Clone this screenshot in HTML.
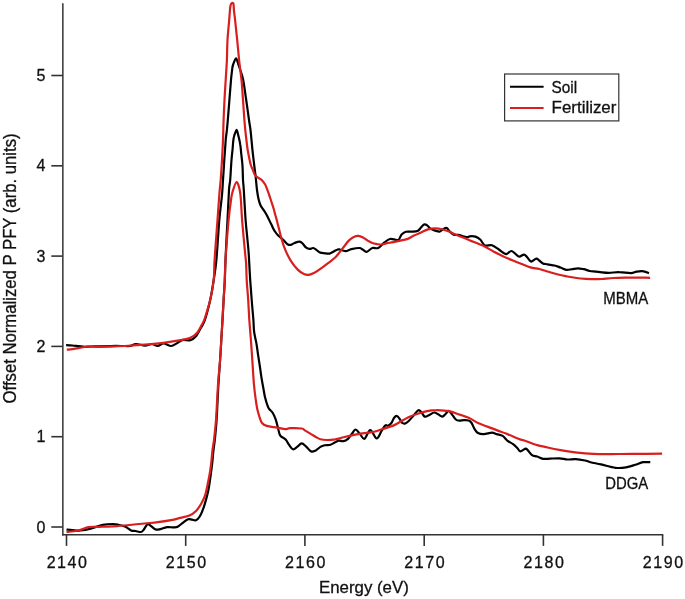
<!DOCTYPE html>
<html><head><meta charset="utf-8"><style>
html,body{margin:0;padding:0;background:#fff;}
svg{display:block;will-change:transform;}
text{font-family:"Liberation Sans",sans-serif;fill:#111;stroke:#111;stroke-width:0.3px;}
</style></head><body>
<svg width="685" height="599" viewBox="0 0 685 599">
<rect width="685" height="599" fill="#fff"/>
<g stroke="#333" stroke-width="1.4" fill="none">
<line x1="62.85" y1="3.2" x2="62.85" y2="535.5" stroke-width="1.5"/>
<line x1="62" y1="534.8" x2="663.3" y2="534.8"/>
<line x1="51.3" y1="527.0" x2="62.7" y2="527.0" stroke-width="1.6"/><line x1="51.3" y1="436.7" x2="62.7" y2="436.7" stroke-width="1.6"/><line x1="51.3" y1="346.4" x2="62.7" y2="346.4" stroke-width="1.6"/><line x1="51.3" y1="256.1" x2="62.7" y2="256.1" stroke-width="1.6"/><line x1="51.3" y1="165.8" x2="62.7" y2="165.8" stroke-width="1.6"/><line x1="51.3" y1="75.5" x2="62.7" y2="75.5" stroke-width="1.6"/><line x1="66.5" y1="534.8" x2="66.5" y2="545.9" stroke-width="1.6"/><line x1="185.7" y1="534.8" x2="185.7" y2="545.9" stroke-width="1.6"/><line x1="304.9" y1="534.8" x2="304.9" y2="545.9" stroke-width="1.6"/><line x1="424.2" y1="534.8" x2="424.2" y2="545.9" stroke-width="1.6"/><line x1="543.4" y1="534.8" x2="543.4" y2="545.9" stroke-width="1.6"/><line x1="662.6" y1="534.8" x2="662.6" y2="545.9" stroke-width="1.6"/>
</g>
<g font-size="16"><text x="45.3" y="532.6" text-anchor="end">0</text><text x="45.3" y="442.3" text-anchor="end">1</text><text x="45.3" y="352.0" text-anchor="end">2</text><text x="45.3" y="261.7" text-anchor="end">3</text><text x="45.3" y="171.4" text-anchor="end">4</text><text x="45.3" y="81.1" text-anchor="end">5</text></g>
<g font-size="16"><text x="66.8" y="567.6" text-anchor="middle" textLength="40.3" lengthAdjust="spacing">2140</text><text x="186.0" y="567.6" text-anchor="middle" textLength="40.3" lengthAdjust="spacing">2150</text><text x="305.2" y="567.6" text-anchor="middle" textLength="40.3" lengthAdjust="spacing">2160</text><text x="424.5" y="567.6" text-anchor="middle" textLength="40.3" lengthAdjust="spacing">2170</text><text x="543.7" y="567.6" text-anchor="middle" textLength="40.3" lengthAdjust="spacing">2180</text><text x="662.9" y="567.6" text-anchor="middle" textLength="40.3" lengthAdjust="spacing">2190</text></g>
<text x="319" y="592.8" font-size="17" textLength="89.8" lengthAdjust="spacingAndGlyphs">Energy (eV)</text>
<text transform="translate(15.8,403.4) rotate(-90)" font-size="18" textLength="270" lengthAdjust="spacingAndGlyphs">Offset Normalized P PFY (arb. units)</text>
<g fill="none" stroke-linejoin="round" stroke-linecap="butt" stroke-width="2.2">
<path d="M66.1,345.2 C67.1,345.2 70.2,345.4 72.3,345.5 C74.3,345.6 76.4,345.9 78.4,346.1 C80.4,346.3 82.5,346.7 84.5,346.8 C86.5,346.9 88.1,346.6 90.7,346.5 C93.3,346.4 96.6,346.4 100.0,346.3 C103.4,346.2 106.8,346.1 111.0,346.0 C115.2,345.9 121.8,346.0 125.0,346.0 C128.2,346.0 128.2,346.3 130.0,346.0 C131.8,345.7 133.5,344.1 136.0,344.0 C138.5,343.9 142.2,345.6 144.9,345.6 C147.6,345.6 149.8,343.9 151.9,344.0 C154.0,344.1 155.8,346.1 157.7,346.0 C159.6,345.9 161.3,343.4 163.5,343.4 C165.7,343.4 168.9,346.0 171.1,346.0 C173.2,346.0 174.6,344.6 176.4,343.6 C178.2,342.6 179.9,340.7 182.2,340.1 C184.5,339.5 188.1,340.8 190.4,340.1 C192.7,339.4 194.4,338.1 196.2,336.0 C197.9,333.9 199.4,330.5 200.9,327.8 C202.4,325.1 203.4,324.6 204.9,320.0 C206.4,315.4 208.7,306.7 210.2,300.0 C211.7,293.3 212.7,286.7 213.7,280.0 C214.7,273.3 215.5,270.0 216.4,260.0 C217.3,250.0 218.4,230.8 219.3,220.0 C220.2,209.2 221.4,201.7 222.0,195.0 C222.6,188.3 222.6,185.8 223.0,180.0 C223.4,174.2 223.9,166.7 224.3,160.0 C224.8,153.3 225.3,145.0 225.7,140.0 C226.1,135.0 226.6,133.3 226.9,130.0 C227.2,126.7 227.4,125.0 227.8,120.0 C228.2,115.0 228.9,106.7 229.4,100.0 C229.9,93.3 230.6,85.0 231.0,80.0 C231.4,75.0 231.8,72.5 232.1,70.0 C232.4,67.5 232.3,66.9 233.0,65.0 C233.7,63.1 235.1,58.4 236.0,58.4 C236.9,58.4 237.9,63.1 238.6,65.0 C239.3,66.9 239.5,67.5 240.3,70.0 C241.1,72.5 242.2,75.0 243.2,80.0 C244.2,85.0 245.2,93.3 246.2,100.0 C247.2,106.7 248.3,115.0 249.0,120.0 C249.7,125.0 250.1,126.7 250.5,130.0 C250.9,133.3 251.1,135.8 251.5,140.0 C251.9,144.2 252.4,150.0 253.0,155.0 C253.6,160.0 254.4,166.5 254.8,170.0 C255.2,173.5 255.2,172.7 255.6,176.0 C256.0,179.3 256.5,186.3 257.0,190.0 C257.5,193.7 257.8,195.9 258.4,198.4 C259.0,200.9 259.6,203.2 260.4,205.0 C261.2,206.8 261.9,207.5 263.0,209.2 C264.1,210.9 265.4,212.6 266.7,215.0 C268.0,217.4 269.7,221.2 271.0,223.8 C272.3,226.4 273.3,228.9 274.5,230.8 C275.7,232.8 276.8,234.1 278.2,235.5 C279.6,236.9 281.3,238.1 282.9,239.5 C284.4,240.9 286.1,243.3 287.5,244.2 C288.9,245.1 289.8,245.0 291.0,244.8 C292.2,244.6 293.1,243.5 294.5,243.0 C295.9,242.5 297.9,241.6 299.2,241.6 C300.5,241.6 300.9,242.0 302.1,243.0 C303.3,244.0 304.9,246.7 306.2,247.7 C307.5,248.7 308.5,248.8 309.7,248.9 C310.9,249.0 312.0,247.8 313.2,248.0 C314.4,248.2 315.5,249.3 316.7,250.1 C317.9,250.9 318.9,252.1 320.3,252.6 C321.7,253.1 323.3,253.1 324.9,253.3 C326.4,253.5 328.0,253.9 329.6,253.6 C331.2,253.2 332.9,251.9 334.3,251.2 C335.7,250.5 336.9,249.8 337.8,249.5 C338.7,249.2 338.4,249.2 339.7,249.5 C341.0,249.8 343.6,251.2 345.5,251.1 C347.4,251.0 349.1,249.6 351.4,249.1 C353.7,248.6 357.6,247.9 359.5,248.0 C361.4,248.1 361.8,249.1 363.0,249.7 C364.2,250.3 365.0,252.1 366.6,251.8 C368.2,251.5 370.5,248.6 372.4,248.0 C374.3,247.4 376.2,248.9 378.2,248.0 C380.1,247.1 382.2,244.2 384.1,242.7 C386.1,241.2 387.9,239.5 389.9,239.0 C391.8,238.5 394.3,239.7 395.8,239.8 C397.3,239.9 397.7,240.7 398.7,239.8 C399.7,238.9 400.4,235.8 401.6,234.5 C402.8,233.2 404.1,232.3 405.8,231.8 C407.5,231.3 409.8,231.7 411.7,231.6 C413.6,231.5 415.9,231.7 417.5,231.0 C419.1,230.3 419.9,228.6 421.0,227.5 C422.1,226.4 423.0,224.9 424.0,224.5 C425.0,224.1 425.8,224.4 426.9,225.1 C428.0,225.8 429.0,227.7 430.4,228.6 C431.8,229.5 433.6,230.1 435.1,230.6 C436.7,231.1 438.4,231.8 439.7,231.6 C441.0,231.4 442.0,229.8 443.2,229.2 C444.4,228.6 445.5,227.5 446.7,228.0 C447.9,228.5 449.1,231.0 450.3,232.1 C451.5,233.2 452.5,234.4 453.8,234.8 C455.1,235.2 456.8,234.6 458.4,234.8 C459.9,235.0 461.5,235.8 463.1,236.2 C464.7,236.6 466.7,237.2 467.8,237.2 C468.9,237.2 468.4,236.4 469.7,236.3 C471.0,236.2 473.8,236.1 475.5,236.6 C477.2,237.1 478.6,238.0 480.2,239.5 C481.8,241.0 482.9,244.5 484.9,245.4 C486.8,246.3 489.6,244.5 491.9,245.2 C494.2,245.9 496.6,248.0 498.9,249.5 C501.2,251.0 503.8,253.8 505.9,254.1 C508.0,254.3 509.6,250.6 511.7,251.0 C513.9,251.4 516.6,255.9 518.8,256.5 C520.9,257.1 522.7,253.9 524.6,254.7 C526.5,255.5 529.1,260.1 530.4,261.2 C531.7,262.2 531.3,261.4 532.3,261.0 C533.3,260.6 535.2,258.8 536.4,258.7 C537.6,258.6 538.2,259.7 539.3,260.5 C540.4,261.3 541.5,262.8 542.9,263.4 C544.3,264.0 545.6,263.9 547.5,264.3 C549.4,264.7 552.4,265.0 554.5,265.5 C556.6,266.0 558.4,266.8 560.4,267.5 C562.4,268.2 564.2,269.5 566.2,269.8 C568.2,270.1 570.2,269.4 572.1,269.2 C574.0,268.9 576.0,268.3 577.9,268.3 C579.8,268.3 581.8,268.8 583.8,269.2 C585.8,269.6 587.7,270.6 589.6,271.0 C591.5,271.4 593.7,271.4 595.4,271.6 C597.1,271.8 597.8,271.9 600.0,272.1 C602.2,272.3 605.5,272.8 608.7,272.8 C611.9,272.8 615.5,272.1 619.2,272.2 C622.9,272.2 628.0,273.2 630.9,273.1 C633.8,273.0 634.6,271.9 636.7,271.6 C638.8,271.3 641.7,271.1 643.7,271.3 C645.8,271.6 648.1,272.8 649.0,273.1" stroke="#000"/>
<path d="M66.5,529.6 C67.5,529.7 70.0,530.0 72.3,530.1 C74.6,530.2 77.3,530.8 80.4,530.5 C83.5,530.2 87.0,529.6 90.7,528.6 C94.5,527.6 99.2,525.6 102.9,524.8 C106.6,524.0 110.4,524.0 113.1,524.0 C115.8,524.0 117.2,524.6 119.3,525.0 C121.3,525.4 124.0,526.1 125.4,526.6 C126.8,527.1 126.6,527.4 127.6,528.1 C128.6,528.8 130.3,530.2 131.6,530.7 C132.9,531.2 134.0,530.8 135.5,531.0 C137.0,531.2 139.5,532.1 140.8,532.0 C142.1,531.9 142.3,531.4 143.4,530.1 C144.5,528.8 146.2,525.2 147.3,524.4 C148.4,523.6 148.7,524.4 150.0,525.2 C151.3,526.0 153.7,528.5 155.2,529.2 C156.7,529.9 157.2,529.8 159.2,529.4 C161.2,529.0 164.6,527.4 167.0,527.1 C169.4,526.8 171.8,527.5 173.6,527.4 C175.4,527.3 176.1,527.6 177.6,526.8 C179.1,526.0 181.1,524.1 182.8,522.8 C184.6,521.5 186.6,519.7 188.1,519.2 C189.6,518.7 190.7,519.4 192.0,519.6 C193.3,519.8 194.7,520.8 196.0,520.2 C197.3,519.7 198.6,518.5 199.9,516.3 C201.2,514.1 202.7,510.2 203.8,507.1 C204.9,504.0 205.7,500.8 206.5,497.9 C207.3,495.0 207.8,493.0 208.4,490.0 C209.0,487.0 209.4,484.2 210.0,480.0 C210.6,475.8 211.4,470.0 212.0,465.0 C212.6,460.0 213.0,454.2 213.5,450.0 C214.0,445.8 214.3,445.0 214.8,440.0 C215.3,435.0 216.0,429.2 216.6,420.0 C217.2,410.8 217.8,395.0 218.4,385.0 C219.0,375.0 219.6,367.5 220.1,360.0 C220.6,352.5 220.9,346.7 221.3,340.0 C221.7,333.3 222.1,326.7 222.5,320.0 C222.9,313.3 223.2,306.7 223.6,300.0 C224.0,293.3 224.5,286.7 224.8,280.0 C225.1,273.3 225.1,270.0 225.5,260.0 C225.9,250.0 226.9,231.7 227.5,220.0 C228.1,208.3 228.6,196.7 229.0,190.0 C229.4,183.3 229.8,185.0 230.2,180.0 C230.6,175.0 231.1,165.0 231.5,160.0 C231.9,155.0 232.2,152.9 232.5,150.0 C232.8,147.1 232.9,144.5 233.1,142.5 C233.3,140.5 233.4,139.5 233.7,137.9 C234.0,136.3 234.6,134.5 235.1,133.2 C235.6,131.9 236.2,130.0 236.6,129.9 C237.0,129.8 237.3,131.4 237.6,132.5 C237.9,133.6 238.1,134.6 238.6,136.7 C239.1,138.8 239.9,142.0 240.3,144.9 C240.8,147.8 240.9,150.7 241.3,154.2 C241.7,157.7 242.2,161.6 242.5,165.9 C242.8,170.2 242.8,176.0 243.0,180.0 C243.2,184.0 243.4,183.3 243.8,190.0 C244.2,196.7 245.0,211.7 245.6,220.0 C246.2,228.3 247.0,234.2 247.5,240.0 C248.0,245.8 248.4,248.3 248.8,255.0 C249.2,261.7 249.7,272.5 250.2,280.0 C250.7,287.5 251.2,293.3 251.7,300.0 C252.2,306.7 253.0,314.7 253.4,320.0 C253.8,325.3 253.6,327.8 254.1,331.7 C254.6,335.6 255.7,339.5 256.4,343.4 C257.1,347.3 257.5,351.1 258.1,355.0 C258.7,358.9 259.3,362.8 259.9,366.7 C260.5,370.6 261.0,374.7 261.6,378.4 C262.2,382.1 262.9,385.9 263.5,389.0 C264.1,392.1 264.2,393.8 264.9,396.7 C265.6,399.6 267.1,404.5 267.9,406.6 C268.7,408.7 268.8,408.5 269.6,409.5 C270.4,410.5 271.5,410.9 272.5,412.5 C273.5,414.1 274.6,416.5 275.5,418.9 C276.4,421.3 277.0,424.4 277.8,427.1 C278.6,429.8 278.8,433.3 280.1,435.3 C281.4,437.3 283.9,437.8 285.4,439.3 C286.9,440.9 287.6,442.9 288.9,444.6 C290.2,446.3 291.6,448.9 293.0,449.3 C294.4,449.7 295.7,447.9 297.1,446.9 C298.6,445.9 300.1,443.4 301.7,443.4 C303.2,443.4 304.8,445.6 306.4,446.9 C308.0,448.2 309.5,450.8 311.1,451.4 C312.7,452.0 314.2,451.1 315.8,450.4 C317.4,449.6 318.9,447.8 320.4,446.9 C321.9,446.0 323.0,445.7 324.7,445.3 C326.4,444.9 328.8,445.2 330.5,444.7 C332.2,444.2 333.8,443.0 335.2,442.3 C336.6,441.6 337.3,440.8 338.7,440.6 C340.1,440.4 341.8,441.5 343.4,441.2 C344.9,440.9 346.6,440.0 348.0,438.8 C349.4,437.6 350.3,435.7 351.6,434.1 C352.9,432.6 354.2,429.6 355.6,429.5 C357.0,429.4 358.2,432.1 359.7,433.6 C361.2,435.2 362.6,439.4 364.4,438.8 C366.2,438.2 368.2,430.2 370.3,430.1 C372.4,430.1 374.8,438.4 376.7,438.5 C378.6,438.6 380.2,432.9 381.7,430.7 C383.1,428.5 384.3,426.2 385.4,425.4 C386.4,424.6 387.0,426.1 388.0,425.7 C389.0,425.3 390.4,424.3 391.4,423.0 C392.4,421.7 393.1,419.2 394.0,418.0 C394.9,416.8 396.1,415.8 397.0,416.0 C397.9,416.2 398.8,417.8 399.7,419.0 C400.6,420.2 401.4,422.3 402.4,423.0 C403.3,423.7 404.3,423.7 405.4,423.4 C406.4,423.1 407.3,422.3 408.7,421.0 C410.1,419.7 412.0,417.3 413.6,415.5 C415.2,413.7 417.0,410.8 418.3,410.2 C419.6,409.6 420.1,410.9 421.2,412.0 C422.3,413.1 423.3,416.1 424.7,416.6 C426.1,417.1 427.8,415.6 429.4,414.9 C431.0,414.2 432.6,412.6 434.1,412.5 C435.6,412.4 436.8,413.6 438.2,414.3 C439.6,415.0 441.0,416.7 442.3,416.6 C443.6,416.5 444.7,414.7 445.8,413.7 C446.9,412.7 447.6,410.6 448.7,410.8 C449.8,411.0 451.1,413.4 452.3,414.9 C453.5,416.3 454.6,418.5 455.8,419.5 C457.0,420.5 457.9,420.6 459.3,420.7 C460.7,420.8 462.4,420.1 464.0,420.1 C465.6,420.1 467.4,420.0 468.7,420.5 C470.0,421.0 470.6,421.6 471.6,423.0 C472.6,424.4 473.4,427.2 474.5,428.9 C475.6,430.6 476.4,432.1 478.0,433.0 C479.6,433.9 481.5,434.2 483.9,434.1 C486.2,434.0 490.0,432.6 492.1,432.6 C494.2,432.6 494.9,433.6 496.7,434.1 C498.4,434.7 500.8,434.8 502.6,435.9 C504.4,437.0 505.6,439.2 507.3,440.6 C509.1,442.0 511.4,442.9 513.1,444.1 C514.8,445.3 516.1,446.8 517.3,448.0 C518.5,449.2 518.9,451.2 520.3,451.3 C521.7,451.4 524.2,448.8 525.5,448.6 C526.8,448.5 526.8,449.3 527.9,450.4 C529.0,451.5 530.5,454.1 532.0,455.1 C533.5,456.1 535.4,455.9 537.2,456.5 C539.0,457.1 540.9,458.4 543.0,458.8 C545.1,459.2 547.3,458.7 550.0,458.6 C552.7,458.5 556.5,458.2 559.4,458.3 C562.3,458.4 564.9,459.4 567.6,459.5 C570.3,459.6 572.9,458.9 575.8,459.1 C578.7,459.3 582.5,460.0 585.0,460.5 C587.5,461.0 587.8,461.6 590.5,462.2 C593.2,462.8 596.8,463.5 601.0,464.4 C605.2,465.3 611.3,467.3 615.5,467.8 C619.7,468.3 622.7,467.9 626.0,467.4 C629.3,466.9 632.4,465.7 635.2,464.8 C638.1,463.9 640.6,462.6 643.1,462.2 C645.6,461.8 649.1,462.2 650.3,462.2" stroke="#000"/>
<path d="M66.8,349.7 C67.7,349.6 70.4,349.5 72.3,349.2 C74.2,348.9 76.4,348.5 78.4,348.1 C80.4,347.7 82.6,347.3 84.5,347.0 C86.4,346.7 87.4,346.5 90.0,346.5 C92.6,346.5 96.5,346.8 100.0,346.8 C103.5,346.8 106.8,346.7 111.0,346.6 C115.2,346.5 118.8,346.4 125.0,346.0 C131.2,345.6 142.0,344.9 148.4,344.4 C154.8,343.9 157.9,343.6 163.5,342.8 C169.1,342.0 177.7,340.6 182.2,339.8 C186.7,339.0 187.9,339.0 190.4,337.8 C192.9,336.6 195.5,334.8 197.4,332.5 C199.3,330.2 200.8,326.7 202.1,324.3 C203.3,321.9 203.6,322.1 204.9,318.0 C206.2,313.9 208.7,306.3 210.2,300.0 C211.7,293.7 213.0,286.7 213.7,280.0 C214.4,273.3 214.0,270.0 214.6,260.0 C215.2,250.0 216.7,230.8 217.5,220.0 C218.3,209.2 218.8,201.7 219.3,195.0 C219.8,188.3 220.2,185.8 220.7,180.0 C221.1,174.2 221.6,166.7 222.0,160.0 C222.4,153.3 222.7,146.7 223.0,140.0 C223.3,133.3 223.3,126.7 223.6,120.0 C223.8,113.3 224.2,106.7 224.5,100.0 C224.8,93.3 225.3,86.7 225.7,80.0 C226.1,73.3 226.6,66.7 226.9,60.0 C227.2,53.3 227.1,46.7 227.5,40.0 C227.9,33.3 228.7,25.8 229.2,20.0 C229.7,14.2 229.9,8.1 230.6,5.3 C231.3,2.5 232.8,2.7 233.3,3.5 C233.9,4.3 233.6,7.2 233.9,10.0 C234.2,12.8 234.6,15.0 235.1,20.0 C235.6,25.0 236.5,33.3 237.2,40.0 C237.9,46.7 238.4,53.3 239.1,60.0 C239.8,66.7 240.8,73.3 241.5,80.0 C242.2,86.7 242.5,93.3 243.0,100.0 C243.5,106.7 244.0,115.0 244.4,120.0 C244.8,125.0 245.0,126.7 245.3,130.0 C245.6,133.3 246.0,136.7 246.4,140.0 C246.8,143.3 247.2,147.0 247.7,150.0 C248.2,153.0 248.7,155.5 249.2,158.0 C249.7,160.5 250.2,163.0 250.8,165.0 C251.4,167.0 252.2,168.3 252.9,170.0 C253.6,171.7 254.1,173.9 255.0,175.2 C255.9,176.5 257.3,177.1 258.4,177.9 C259.5,178.7 260.6,178.9 261.7,180.0 C262.8,181.1 264.1,182.7 265.0,184.2 C265.9,185.7 266.4,187.4 267.1,189.2 C267.8,191.0 268.4,192.8 269.2,195.0 C270.0,197.2 270.9,200.2 271.7,202.6 C272.5,205.0 273.2,207.1 273.8,209.2 C274.4,211.3 274.8,213.3 275.3,215.0 C275.8,216.7 276.0,217.1 276.6,219.5 C277.2,221.9 278.4,226.7 279.2,229.6 C279.9,232.5 280.3,234.4 281.1,237.2 C281.9,240.0 282.9,243.7 284.0,246.6 C285.1,249.5 286.1,252.0 287.5,254.7 C288.9,257.4 290.4,260.4 292.2,262.9 C293.9,265.4 296.1,268.0 298.0,269.9 C299.9,271.8 302.1,273.2 303.9,274.0 C305.7,274.8 306.9,275.0 308.6,274.8 C310.4,274.6 312.3,273.9 314.4,272.8 C316.5,271.7 319.1,269.9 321.4,268.2 C323.7,266.5 326.1,264.7 328.4,262.9 C330.7,261.1 333.3,259.3 335.2,257.5 C337.1,255.7 338.2,254.0 339.7,252.1 C341.2,250.2 342.8,248.1 344.3,246.2 C345.9,244.2 347.4,241.9 349.0,240.4 C350.6,238.9 352.1,237.7 353.7,236.9 C355.3,236.2 356.8,235.8 358.4,235.9 C359.9,236.0 361.4,236.7 363.0,237.5 C364.6,238.3 366.1,239.7 367.7,240.6 C369.3,241.5 370.8,242.4 372.4,243.0 C374.0,243.6 375.6,243.8 377.1,244.1 C378.7,244.3 380.1,244.6 381.7,244.5 C383.2,244.4 384.4,243.7 386.4,243.3 C388.3,242.9 391.1,242.6 393.4,242.1 C395.7,241.6 398.1,241.1 400.4,240.6 C402.7,240.1 404.7,239.9 407.0,239.1 C409.3,238.3 411.7,236.7 414.0,235.6 C416.3,234.5 418.7,233.5 421.0,232.5 C423.3,231.5 425.6,230.1 428.0,229.4 C430.4,228.7 432.8,228.3 435.1,228.3 C437.5,228.3 439.8,228.6 442.1,229.2 C444.4,229.8 446.8,230.7 449.1,231.6 C451.4,232.5 453.8,233.8 456.1,234.8 C458.4,235.8 460.8,236.7 463.1,237.6 C465.4,238.5 466.6,239.0 470.0,240.4 C473.4,241.8 479.9,244.2 483.7,246.0 C487.5,247.8 489.9,249.5 493.0,251.2 C496.1,252.8 499.3,254.4 502.4,255.9 C505.5,257.4 508.6,258.7 511.7,260.0 C514.8,261.3 518.0,262.6 521.1,263.8 C524.2,265.0 527.4,266.5 530.4,267.4 C533.4,268.3 536.2,268.3 539.3,269.0 C542.3,269.7 545.6,270.9 548.7,271.8 C551.8,272.7 554.9,273.7 558.0,274.5 C561.1,275.3 564.3,275.9 567.4,276.5 C570.5,277.1 573.6,277.6 576.7,278.0 C579.8,278.4 583.0,278.6 586.1,278.8 C589.2,279.0 592.8,279.1 595.4,279.1 C598.0,279.1 598.7,279.2 601.7,279.0 C604.7,278.8 609.5,278.2 613.4,278.0 C617.3,277.8 621.1,277.7 625.0,277.6 C628.9,277.5 632.5,277.6 636.7,277.6 C640.9,277.6 647.9,277.8 650.1,277.8" stroke="#d91e1e"/>
<path d="M66.5,532.0 C68.5,531.8 74.7,531.3 78.4,530.5 C82.1,529.7 85.2,527.7 88.6,527.1 C92.0,526.5 95.7,526.9 98.8,526.8 C101.9,526.7 103.9,526.7 107.0,526.6 C110.1,526.5 113.5,526.4 117.2,526.1 C121.0,525.8 124.9,525.4 129.5,525.0 C134.1,524.6 140.0,524.0 144.7,523.5 C149.4,523.0 153.4,522.8 157.8,522.2 C162.2,521.7 167.3,520.9 171.0,520.2 C174.7,519.5 177.1,518.7 180.2,517.9 C183.3,517.1 186.8,516.8 189.4,515.6 C192.0,514.5 194.0,513.0 196.0,511.0 C198.0,509.0 199.7,506.4 201.2,503.8 C202.7,501.2 204.0,498.4 205.1,495.3 C206.2,492.2 206.8,488.4 207.5,485.0 C208.2,481.6 208.9,478.3 209.5,475.0 C210.1,471.7 210.5,469.2 211.0,465.0 C211.5,460.8 212.0,454.2 212.5,450.0 C213.0,445.8 213.4,445.0 214.0,440.0 C214.6,435.0 215.3,429.2 216.0,420.0 C216.7,410.8 217.3,395.0 218.0,385.0 C218.7,375.0 219.5,367.5 220.1,360.0 C220.7,352.5 220.9,346.7 221.3,340.0 C221.7,333.3 222.1,326.7 222.5,320.0 C222.9,313.3 223.2,306.7 223.6,300.0 C224.0,293.3 224.5,286.7 224.8,280.0 C225.1,273.3 224.9,270.0 225.5,260.0 C226.1,250.0 227.7,230.0 228.6,220.0 C229.5,210.0 230.3,204.7 231.0,200.0 C231.7,195.3 231.6,195.0 232.5,192.0 C233.4,189.0 235.4,182.3 236.6,182.0 C237.8,181.7 239.0,187.0 239.7,190.0 C240.4,193.0 240.5,195.0 240.9,200.0 C241.3,205.0 241.4,210.8 242.1,220.0 C242.8,229.2 244.6,247.5 245.3,255.0 C246.0,262.5 246.0,260.8 246.2,265.0 C246.4,269.2 246.4,274.2 246.7,280.0 C247.0,285.8 247.8,293.3 248.2,300.0 C248.6,306.7 248.9,313.3 249.3,320.0 C249.8,326.7 250.4,333.3 250.9,340.0 C251.4,346.7 251.8,352.5 252.3,360.0 C252.8,367.5 253.4,378.3 254.0,385.0 C254.6,391.7 255.2,395.8 255.8,400.0 C256.4,404.2 256.8,407.0 257.5,410.0 C258.2,413.0 259.1,415.8 259.8,418.0 C260.6,420.2 260.9,421.7 262.0,423.0 C263.1,424.3 264.2,425.1 266.7,425.9 C269.2,426.7 274.1,427.1 277.2,427.7 C280.3,428.2 283.2,429.1 285.4,429.2 C287.5,429.3 287.4,428.3 290.1,428.2 C292.8,428.1 299.2,428.1 301.7,428.5 C304.2,428.9 303.7,429.7 305.3,430.6 C306.9,431.5 309.4,433.0 311.1,434.1 C312.9,435.2 314.2,436.1 315.8,437.0 C317.4,437.9 318.5,438.8 320.4,439.3 C322.3,439.8 324.5,440.0 327.0,440.0 C329.5,440.0 332.5,439.8 335.2,439.4 C337.9,438.9 340.7,438.0 343.4,437.3 C346.1,436.6 348.7,435.9 351.6,435.3 C354.5,434.7 358.0,434.1 360.9,433.6 C363.8,433.2 366.6,433.0 369.1,432.6 C371.6,432.2 373.8,431.8 376.1,431.2 C378.4,430.6 380.5,429.6 383.1,428.8 C385.8,428.0 389.4,427.2 392.0,426.1 C394.6,425.1 396.3,424.0 399.0,422.5 C401.7,421.0 405.3,418.7 408.4,417.2 C411.5,415.7 414.6,414.7 417.7,413.7 C420.8,412.7 424.0,411.7 427.1,411.1 C430.2,410.5 433.3,410.2 436.4,410.2 C439.5,410.1 443.5,410.6 445.8,410.8 C448.1,411.0 448.1,410.9 450.0,411.4 C451.9,411.9 453.9,412.6 457.0,413.7 C460.1,414.8 465.2,416.2 468.7,417.8 C472.2,419.4 474.9,421.5 478.0,423.0 C481.1,424.5 484.3,425.4 487.4,426.6 C490.5,427.8 493.6,428.9 496.7,430.1 C499.8,431.3 503.4,432.5 506.1,433.6 C508.8,434.7 510.8,435.5 513.1,436.5 C515.4,437.5 518.1,438.7 520.0,439.4 C521.9,440.1 521.4,439.6 524.3,440.5 C527.2,441.4 533.3,443.9 537.2,445.1 C541.1,446.3 543.8,446.6 547.7,447.5 C551.6,448.4 556.3,449.4 560.6,450.2 C564.9,451.0 569.3,451.6 573.4,452.1 C577.5,452.6 581.7,453.1 585.0,453.4 C588.3,453.7 589.8,453.8 593.1,453.9 C596.4,454.0 600.6,454.1 605.0,454.1 C609.4,454.1 612.6,454.0 619.4,454.0 C626.2,454.0 638.6,453.9 645.7,453.9 C652.8,453.8 659.4,453.7 662.1,453.7" stroke="#d91e1e"/>
</g>
<rect x="504.6" y="74" width="114.2" height="46.9" fill="#fff" stroke="#333" stroke-width="1.2"/>
<line x1="510" y1="86.7" x2="543.6" y2="86.7" stroke="#000" stroke-width="2"/>
<line x1="510" y1="107.9" x2="543.6" y2="107.9" stroke="#d91e1e" stroke-width="2"/>
<text x="551.6" y="92.8" font-size="16.5" textLength="25.6" lengthAdjust="spacingAndGlyphs">Soil</text>
<text x="551.6" y="113.3" font-size="16.5" textLength="64.8" lengthAdjust="spacingAndGlyphs">Fertilizer</text>
<text x="603.2" y="303.7" font-size="16" textLength="45" lengthAdjust="spacingAndGlyphs">MBMA</text>
<text x="605.2" y="489" font-size="16" textLength="43" lengthAdjust="spacingAndGlyphs">DDGA</text>
</svg>
</body></html>
